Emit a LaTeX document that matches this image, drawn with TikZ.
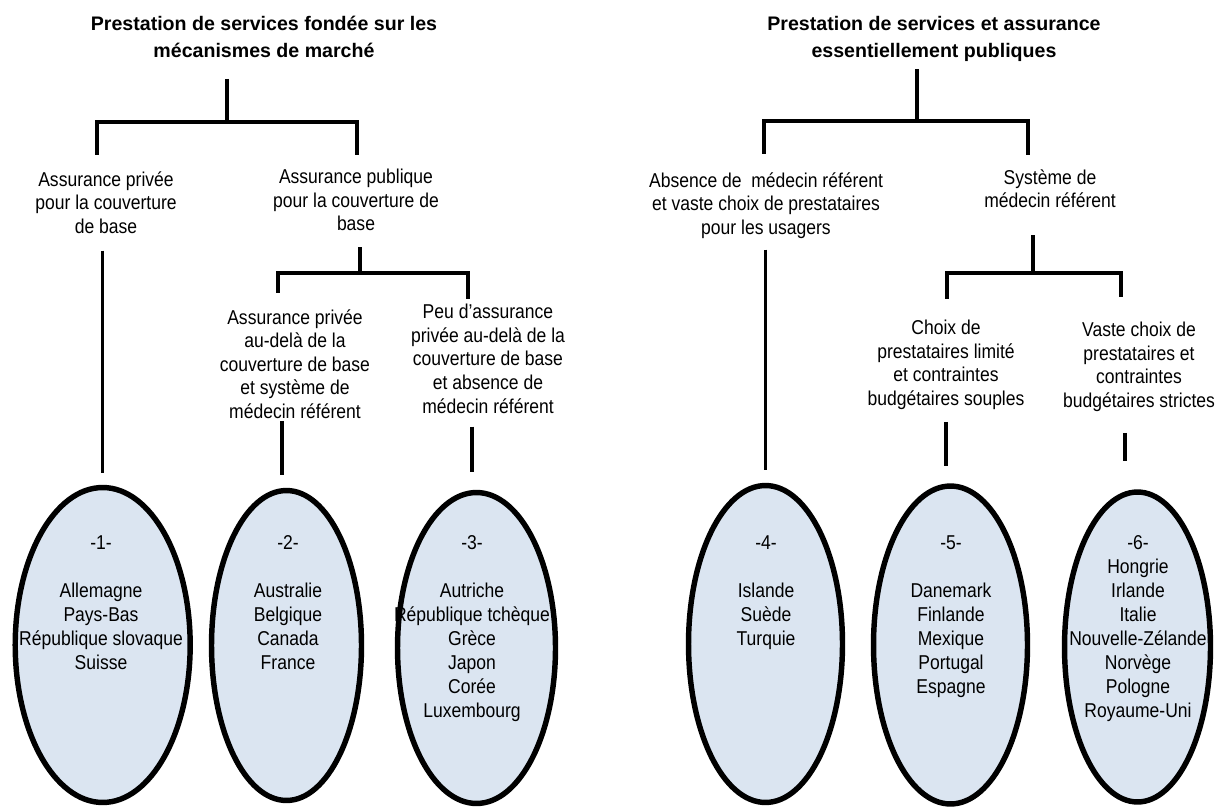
\documentclass[tikz,border=0pt]{standalone}
\usepackage{fontspec}
\setmainfont{Liberation Sans}[FakeStretch=0.875]
\newfontfamily\titrefont{Liberation Sans}
\usetikzlibrary{shapes.geometric}

\definecolor{bleupale}{HTML}{DBE5F1}

\tikzset{
titre/.style={font=\titrefont\bfseries\fontsize{11.15}{15.1}\selectfont,
  align=center, inner sep=0pt, anchor=north,
  execute at begin node={\rule{0pt}{0.32cm}}},
critere/.style={font=\fontsize{11.4}{13.4}\selectfont,
  align=center, inner sep=0pt, anchor=north,
  execute at begin node={\rule{0pt}{0.32cm}}},
pays/.style={font=\fontsize{11.4}{13.66}\selectfont,
  align=center, inner sep=0pt, anchor=north,
  execute at begin node={\rule{0pt}{0.32cm}}},
groupe/.style={ellipse, draw, line width=3.1pt, fill=bleupale},
trait/.style={line width=1.85pt}
}

\begin{document}
\begin{tikzpicture}[x=0.02cm,y=-0.02cm]

\useasboundingbox
(0,0)
rectangle
(1217,807);

% Marché
\node[titre] (t1) at (264,16)
{Prestation de services fondée sur les\\mécanismes de marché};

\node[critere] (a1) at (106,171)
{Assurance privée\\pour la couverture\\de base};

\node[critere] (a2) at (356,169)
{Assurance publique\\pour la couverture de\\base};

\node[critere] (b1) at (295,309)
{Assurance privée\\au-delà de la\\couverture de base\\et système de\\médecin référent};

\node[critere] (b2) at (488,304)
{Peu d'assurance\\privée au-delà de la\\couverture de base\\et absence de\\médecin référent};

\coordinate (j1) at (227,122);
\coordinate (g1) at (97,155);
\coordinate (d1) at (357,155);
\coordinate (j2) at (360,273);
\coordinate (g2) at (278,293);
\coordinate (d2) at (468,299);

\draw[trait,shorten <=0.42cm]
(t1.south -| j1)
--
(j1);

\draw[trait]
(g1)
|-
(j1)
-|
(d1);

\draw[trait,shorten <=0.32cm]
(a2.south -| j2)
--
(j2);

\draw[trait]
(g2)
|-
(j2)
-|
(d2);

% Public
\node[titre] (t2) at (934,16)
{Prestation de services et assurance\\essentiellement publiques};

\node[critere] (c1) at (766,172)
{Absence de~~médecin référent\\et vaste choix de prestataires\\pour les usagers};

\node[critere] (c2) at (1050,169)
{Système de\\médecin référent};

\node[critere] (e1t) at (946,320)
{Choix de\\prestataires limité\\et contraintes\\budgétaires souples};

\node[critere] (e2t) at (1139,322)
{Vaste choix de\\prestataires et\\contraintes\\budgétaires strictes};

\coordinate (j4) at (917,121);
\coordinate (g4) at (764,154);
\coordinate (d4) at (1028,155);
\coordinate (j5) at (1033,273);
\coordinate (g5) at (947,299);
\coordinate (d5) at (1121,297);

\draw[trait,shorten <=0.16cm]
(t2.south -| j4)
--
(j4);

\draw[trait]
(g4)
|-
(j4)
-|
(d4);

\draw[trait,shorten <=0.54cm]
(c2.south -| j5)
--
(j5);

\draw[trait]
(g5)
|-
(j5)
-|
(d5);

% Groupes
\node[groupe,minimum width=3.5cm,minimum height=6.3cm] (g1e) at (102.7,645) {};
\node[groupe,minimum width=3cm,minimum height=6.2cm] (g2e) at (286.5,645.5) {};
\node[groupe,minimum width=3.16cm,minimum height=6.22cm] (g3e) at (476.5,648) {};
\node[groupe,minimum width=3.08cm,minimum height=6.34cm] (g4e) at (765.5,644) {};
\node[groupe,minimum width=3.08cm,minimum height=6.36cm] (g5e) at (950.5,645) {};
\node[groupe,minimum width=2.92cm,minimum height=6.2cm] (g6e) at (1137.5,647) {};

\node[pays] (p1) at (101,535)
{-1-\\[0.48cm]Allemagne\\Pays-Bas\\République slovaque\\Suisse};
\node[pays] (p2) at (288,535)
{-2-\\[0.48cm]Australie\\Belgique\\Canada\\France};
\node[pays] (p3) at (472,535)
{-3-\\[0.48cm]Autriche\\République tchèque\\Grèce\\Japon\\Corée\\Luxembourg};
\node[pays] (p4) at (766,535)
{-4-\\[0.48cm]Islande\\Suède\\Turquie};
\node[pays] (p5) at (951,535)
{-5-\\[0.48cm]Danemark\\Finlande\\Mexique\\Portugal\\Espagne};
\node[pays] (p6) at (1138,535)
{-6-\\Hongrie\\Irlande\\Italie\\Nouvelle-Zélande\\Norvège\\Pologne\\Royaume-Uni};

% Liens vers les groupes
\coordinate (k2) at ([xshift=-0.09cm]g2e.north);
\coordinate (k3) at ([xshift=-0.09cm]g3e.north);
\coordinate (k5) at ([xshift=-0.09cm]g5e.north);
\coordinate (k6) at ([xshift=-0.25cm]g6e.north);

\draw[trait,shorten <=0.34cm,shorten >=0.24cm]
(a1.south -| g1e.north)
--
(g1e.north);

\draw[trait,shorten <=0.04cm,shorten >=0.26cm]
(b1.south -| k2)
--
(k2);

\draw[trait,shorten <=0.26cm,shorten >=0.36cm]
(b2.south -| k3)
--
(k3);

\draw[trait,shorten <=0.22cm,shorten >=0.26cm]
(c1.south -| g4e.north)
--
(g4e.north);

\draw[trait,shorten <=0.24cm,shorten >=0.34cm]
(e1t.south -| k5)
--
(k5);

\draw[trait,shorten <=0.42cm,shorten >=0.56cm]
(e2t.south -| k6)
--
(k6);

\end{tikzpicture}
\end{document}
